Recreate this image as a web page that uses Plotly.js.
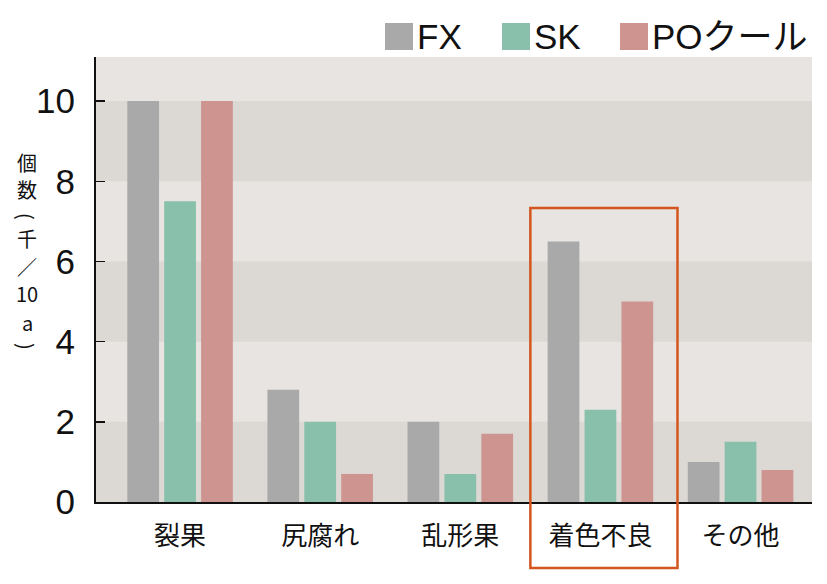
<!DOCTYPE html>
<html>
<head>
<meta charset="utf-8">
<script src="https://cdn.plot.ly/plotly-3.0.1.min.js"></script>
<style>
  html, body { margin: 0; padding: 0; background: #fff; }
  #chart { width: 827px; height: 584px; }
</style>
</head>
<body>
<div id="chart"></div>
<script>
// categorias e valores (mil frutos / 10a)
const categories = ['裂果', '尻腐れ', '乱形果', '着色不良', 'その他'];
const seriesNames = ['FX', 'SK', 'POクール'];
const valuesFX = [10, 2.8, 2.0, 6.5, 1.0];
const valuesSK = [7.5, 2.0, 0.7, 2.3, 1.5];
const valuesPO = [10, 0.7, 1.7, 5.0, 0.8];
const seriesColors = ['#a9a9a9', '#88c0ab', '#cd9490'];
const yTicks = [0, 2, 4, 6, 8, 10];
const highlighted = '着色不良';
// título do eixo y, um caractere por linha (parênteses giram 90°)
const yTitleChars = ['個', '数', '(', '千', '／', '10', 'a', ')'];

const JP = '"Noto Sans CJK JP", "Noto Sans", sans-serif';
const LAT = '"Liberation Sans", Arial, "Noto Sans CJK JP", sans-serif';

// conversão pixel -> paper (área do gráfico: x 96..812, y 57..502)
const px = v => (v - 96) / 716;
const py = v => (502 - v) / 445;

const allValues = [valuesFX, valuesSK, valuesPO];
const xIdx = categories.map((c, i) => i);

const data = allValues.map((vals, s) => ({
  type: 'bar',
  x: xIdx,
  y: vals,
  name: seriesNames[s],
  marker: { color: seriesColors[s] },
  hoverinfo: 'skip'
}));

// faixas alternadas no fundo
const shapes = [];
for (let i = 0; i < yTicks.length - 1; i += 2) {
  shapes.push({
    type: 'rect', layer: 'below', xref: 'paper', yref: 'y',
    x0: 0, x1: 1, y0: yTicks[i], y1: yTicks[i + 1],
    fillcolor: '#dcd8d4', line: { width: 0 }
  });
}

// caixa laranja em volta do grupo destacado
const hi = categories.indexOf(highlighted);
shapes.push({
  type: 'rect', xref: 'x', yref: 'paper',
  x0: hi - 0.5, x1: hi + 0.55, y0: py(568), y1: py(208),
  line: { color: '#d4561f', width: 2.5 }, fillcolor: 'rgba(0,0,0,0)'
});

// legenda manual (quadrados grandes)
const annotations = [];
const legendX = [385, 502, 620];
seriesNames.forEach((name, s) => {
  const x0 = legendX[s];
  shapes.push({
    type: 'rect', xref: 'paper', yref: 'paper',
    x0: px(x0), x1: px(x0 + 28),
    y0: py(50), y1: py(23),
    fillcolor: seriesColors[s], line: { width: 0 }
  });
  annotations.push({
    xref: 'paper', yref: 'paper', showarrow: false,
    x: px(x0 + 30), y: py(37),
    xanchor: 'left', yanchor: 'middle',
    text: name, font: { family: LAT, size: 35, color: '#111' }
  });
});

// título do eixo y na vertical
const yTitleY = [162, 189, 216, 239, 266, 293, 322, 346];
yTitleChars.forEach((ch, i) => {
  const isParen = ch === '(' || ch === ')';
  annotations.push({
    xref: 'paper', yref: 'paper', showarrow: false,
    x: px(27), y: py(yTitleY[i]),
    xanchor: 'center', yanchor: 'middle',
    borderpad: 0,
    text: ch,
    textangle: isParen ? 90 : 0,
    font: { family: JP, size: 20, color: '#111' }
  });
});

const layout = {
  width: 827, height: 584,
  paper_bgcolor: '#fff',
  plot_bgcolor: '#e7e4e1',
  margin: { l: 96, r: 15, t: 57, b: 82 },
  showlegend: false,
  barmode: 'group',
  bargap: 0.21,
  bargroupgap: 0.14,
  xaxis: {
    range: [-0.6, 4.51],
    tickvals: xIdx,
    ticktext: categories,
    ticks: '',
    showgrid: false,
    zeroline: false,
    showline: true,
    linecolor: '#111',
    linewidth: 2,
    tickfont: { family: JP, size: 26, color: '#111' },
    ticklabelstandoff: 10
  },
  yaxis: {
    range: [0, 11.1],
    tickvals: yTicks,
    ticks: 'inside',
    ticklen: 9,
    tickcolor: '#111',
    tickwidth: 1.5,
    showgrid: false,
    zeroline: false,
    showline: true,
    linecolor: '#111',
    linewidth: 2,
    tickfont: { family: '"Liberation Sans", Arial, sans-serif', size: 35, color: '#111' },
    ticklabelstandoff: 12
  },
  shapes: shapes,
  annotations: annotations
};

Plotly.newPlot('chart', data, layout, { displayModeBar: false, staticPlot: true });
</script>
</body>
</html>
